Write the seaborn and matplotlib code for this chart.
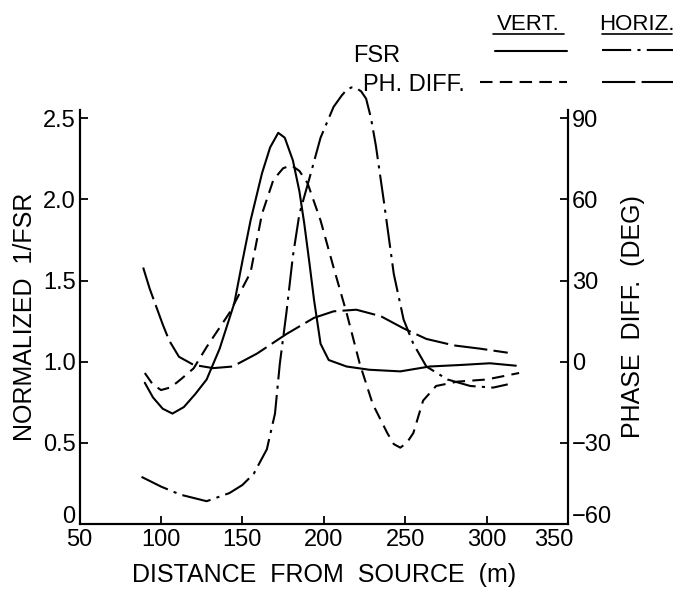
import numpy as np
import matplotlib
matplotlib.use("Agg")
import matplotlib.pyplot as plt
import seaborn as sns
from matplotlib.lines import Line2D
from matplotlib.transforms import ScaledTranslation

# distance (m) and normalized 1/FSR values
vert_fsr_x = [90, 95, 101, 107, 114, 121, 128, 136, 145, 150, 155, 162, 167, 172, 176, 181, 185, 188, 191, 194, 198, 203, 214, 228, 247, 265, 285, 302, 318]
vert_fsr_y = [0.87, 0.78, 0.71, 0.68, 0.72, 0.80, 0.89, 1.08, 1.36, 1.62, 1.87, 2.16, 2.32, 2.41, 2.38, 2.24, 2.05, 1.85, 1.62, 1.38, 1.11, 1.01, 0.97, 0.95, 0.94, 0.97, 0.98, 0.99, 0.975]

horiz_fsr_x = [88, 100, 112, 128, 142, 150, 157, 165, 170, 173, 177, 181, 185, 192, 198, 206, 211, 214, 217, 220, 223, 226, 229, 232, 237, 243, 249, 255, 263, 276, 290, 304, 313]
horiz_fsr_y = [0.29, 0.23, 0.18, 0.14, 0.19, 0.24, 0.31, 0.46, 0.68, 0.99, 1.30, 1.65, 1.91, 2.16, 2.38, 2.57, 2.64, 2.675, 2.69, 2.685, 2.665, 2.62, 2.50, 2.33, 1.98, 1.54, 1.26, 1.11, 0.97, 0.89, 0.85, 0.84, 0.86]

# phase difference (deg)
vert_ph_x = [90, 95, 100, 106, 112, 120, 128, 142, 155, 162, 169, 175, 180, 185, 190, 198, 206, 214, 222, 230, 239, 243, 247, 251, 255, 261, 269, 282, 300, 320]
vert_ph_y = [-4.2, -8.5, -10.5, -9.5, -6.6, -2.5, 5.4, 18.0, 33.0, 54.6, 67.2, 71.5, 72.6, 70.5, 66.0, 52.2, 34.8, 18.0, -0.6, -15.6, -26.4, -30.5, -31.8, -30.0, -26.4, -14.4, -9.0, -7.4, -6.6, -4.2]

horiz_ph_x = [89, 93, 97, 101, 105, 111, 120, 132, 144, 159, 177, 194, 206, 220, 235, 249, 263, 280, 296, 313]
horiz_ph_y = [34.8, 27.0, 20.4, 13.8, 7.8, 1.8, -1.2, -2.4, -1.8, 3.0, 10.2, 16.2, 18.6, 19.2, 16.8, 12.3, 8.4, 6.0, 4.8, 3.3]

sns.set_style("white")
plt.rcParams["font.family"] = ["Liberation Sans", "DejaVu Sans"]
plt.rcParams["text.color"] = "black"
plt.rcParams["axes.labelcolor"] = "black"

fig = plt.figure(figsize=(6.81, 5.92), dpi=100)
ax = fig.add_axes([0.117, 0.115, 0.717, 0.699])
ax2 = ax.twinx()

lw = 1.5
dashdot = (0, (14, 3, 1.5, 3))
shortdash = (0, (6, 3.5))
longdash = (0, (16, 3))
sns.lineplot(x=vert_fsr_x, y=vert_fsr_y, ax=ax, color="black", lw=lw, linestyle="-", clip_on=False)
sns.lineplot(x=horiz_fsr_x, y=horiz_fsr_y, ax=ax, color="black", lw=lw, linestyle=dashdot, clip_on=False)
sns.lineplot(x=vert_ph_x, y=vert_ph_y, ax=ax2, color="black", lw=lw, linestyle=shortdash, clip_on=False)
sns.lineplot(x=horiz_ph_x, y=horiz_ph_y, ax=ax2, color="black", lw=lw, linestyle=longdash, clip_on=False)

ax.set_xlim(50, 350)
ax.set_ylim(0, 2.55)
ax2.set_ylim(-60, 93)
ax.set_xticks([50, 100, 150, 200, 250, 300, 350])
ax.set_yticks([0, 0.5, 1.0, 1.5, 2.0, 2.5])
ax.set_yticklabels(["0", "0.5", "1.0", "1.5", "2.0", "2.5"])
ax2.set_yticks([-60, -30, 0, 30, 60, 90])

for a in (ax, ax2):
    a.spines["top"].set_visible(False)
    for s in a.spines.values():
        s.set_color("black")
        s.set_linewidth(1.5)
    a.tick_params(direction="in", length=6, width=1.3, labelsize=17, colors="black", pad=3)
ax.tick_params(axis="y", left=True, right=False)
ax.tick_params(axis="x", bottom=True, pad=4)
ax2.tick_params(axis="y", right=True, left=False)

# nudge corner labels apart like the original
up = ScaledTranslation(0, 7 / 72, fig.dpi_scale_trans)
ax.get_yticklabels()[0].set_transform(ax.get_yticklabels()[0].get_transform() + up)
ax2.get_yticklabels()[0].set_transform(ax2.get_yticklabels()[0].get_transform() + up)
left = ScaledTranslation(-10 / 72, 0, fig.dpi_scale_trans)
ax.get_xticklabels()[-1].set_transform(ax.get_xticklabels()[-1].get_transform() + left)

ax.set_xlabel("DISTANCE  FROM  SOURCE  (m)", fontsize=18, labelpad=8)
ax.set_ylabel("NORMALIZED  1/FSR", fontsize=18, labelpad=4)
ax2.set_ylabel("PHASE  DIFF.  (DEG)", fontsize=18, labelpad=6)

# hand-made legend at the top
W, H = 681.0, 592.0
def fx(px):
    return px / W
def fy(py):
    return 1 - py / H

fig.text(fx(528), fy(24), "VERT.", ha="center", va="center", fontsize=16)
fig.text(fx(637), fy(24), "HORIZ.", ha="center", va="center", fontsize=16)
fig.add_artist(Line2D([fx(493), fx(564)], [fy(34), fy(34)], color="black", lw=1.2))
fig.add_artist(Line2D([fx(602), fx(672)], [fy(34), fy(34)], color="black", lw=1.2))
fig.text(fx(353), fy(56), "FSR", ha="left", va="center", fontsize=17)
fig.text(fx(363), fy(85), "PH. DIFF.", ha="left", va="center", fontsize=17)
fig.add_artist(Line2D([fx(495), fx(567)], [fy(51), fy(51)], color="black", lw=lw))
fig.add_artist(Line2D([fx(602), fx(673)], [fy(50), fy(50)], color="black", lw=lw, linestyle=dashdot))
fig.add_artist(Line2D([fx(480), fx(567)], [fy(82), fy(82)], color="black", lw=lw, linestyle=shortdash))
fig.add_artist(Line2D([fx(602), fx(673)], [fy(82), fy(82)], color="black", lw=lw, linestyle=longdash))

fig.savefig("out.png", dpi=100)
